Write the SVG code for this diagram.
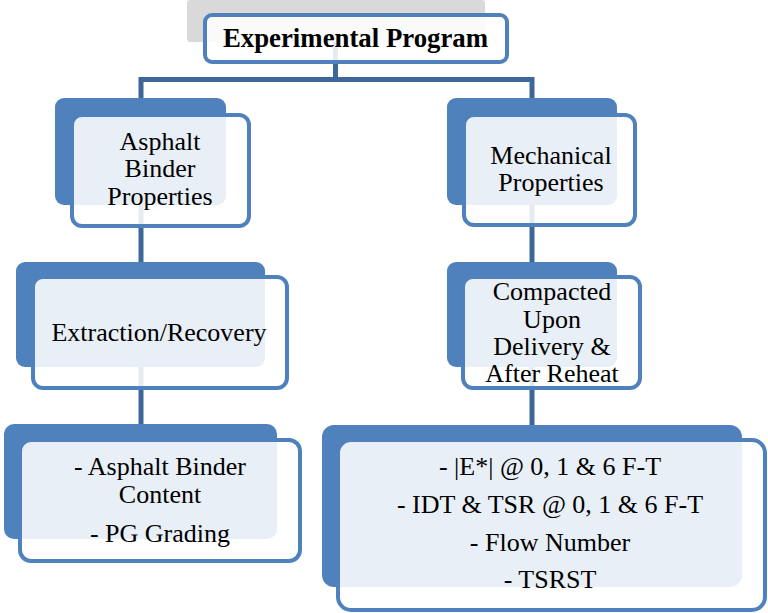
<svg xmlns="http://www.w3.org/2000/svg" width="768" height="613" viewBox="0 0 768 613">
  <style>
    .back { fill: #4F81BD; }
    .front { fill: #FFFFFF; fill-opacity: 0.87; stroke: #4F81BD; stroke-width: 4; }
    .conn { stroke: #3D6799; stroke-width: 5; fill: none; stroke-linejoin: miter; }
    .t { font-family: "Liberation Serif", "Times New Roman", serif; font-size: 26px; fill: #000; text-anchor: middle; }
    .title { font-weight: bold; font-size: 26.8px; }
  </style>
  <rect width="768" height="613" fill="#FFFFFF"/>
  <g id="connectors">
    <path class="conn" d="M335.5 42 V79.5"/>
    <path class="conn" d="M141 98 V79.5 H532 V98"/>
    <path class="conn" d="M141 205 V262"/>
    <path class="conn" d="M141 367 V424"/>
    <path class="conn" d="M532 205 V262"/>
    <path class="conn" d="M532 367 V425"/>
  </g>
  <g id="experimental-program">
    <rect x="187" y="0" width="298" height="42" rx="3" fill="#D9D9D9"/>
    <rect class="front" x="205" y="15" width="302" height="47" rx="7"/>
    <text class="t title" x="355.5" y="47">Experimental Program</text>
  </g>
  <g id="asphalt-binder-properties">
    <rect class="back" x="55" y="98" width="171" height="107" rx="9"/>
    <rect class="front" x="72" y="115" width="177" height="111" rx="10"/>
    <text class="t" x="160" y="150">Asphalt</text>
    <text class="t" x="160" y="177">Binder</text>
    <text class="t" x="160" y="205">Properties</text>
  </g>
  <g id="mechanical-properties">
    <rect class="back" x="447" y="98" width="170" height="107" rx="9"/>
    <rect class="front" x="464" y="115" width="171" height="110" rx="10"/>
    <text class="t" x="551" y="164">Mechanical</text>
    <text class="t" x="551" y="191">Properties</text>
  </g>
  <g id="extraction-recovery">
    <rect class="back" x="16" y="262" width="249" height="105" rx="9"/>
    <rect class="front" x="33" y="277" width="254" height="111" rx="10"/>
    <text class="t" x="159" y="341">Extraction/Recovery</text>
  </g>
  <g id="compacted">
    <rect class="back" x="447" y="262" width="170" height="105" rx="9"/>
    <rect class="front" x="463" y="277" width="177" height="111" rx="10"/>
    <text class="t" x="552" y="300">Compacted</text>
    <text class="t" x="552" y="327.5">Upon</text>
    <text class="t" x="552" y="355">Delivery &amp;</text>
    <text class="t" x="552" y="382">After Reheat</text>
  </g>
  <g id="binder-tests">
    <rect class="back" x="4" y="424" width="273" height="115" rx="10"/>
    <rect class="front" x="20" y="440" width="280" height="121" rx="11"/>
    <text class="t" x="160" y="475">- Asphalt Binder</text>
    <text class="t" x="160" y="503">Content</text>
    <text class="t" x="160" y="542">- PG Grading</text>
  </g>
  <g id="mechanical-tests">
    <rect class="back" x="322" y="425" width="420" height="162" rx="12"/>
    <rect class="front" x="338" y="440" width="427" height="170" rx="13"/>
    <text class="t" x="550" y="475">- |E*| @ 0, 1 &amp; 6 F-T</text>
    <text class="t" x="550" y="513">- IDT &amp; TSR @ 0, 1 &amp; 6 F-T</text>
    <text class="t" x="550" y="551">- Flow Number</text>
    <text class="t" x="550" y="588">- TSRST</text>
  </g>
</svg>
